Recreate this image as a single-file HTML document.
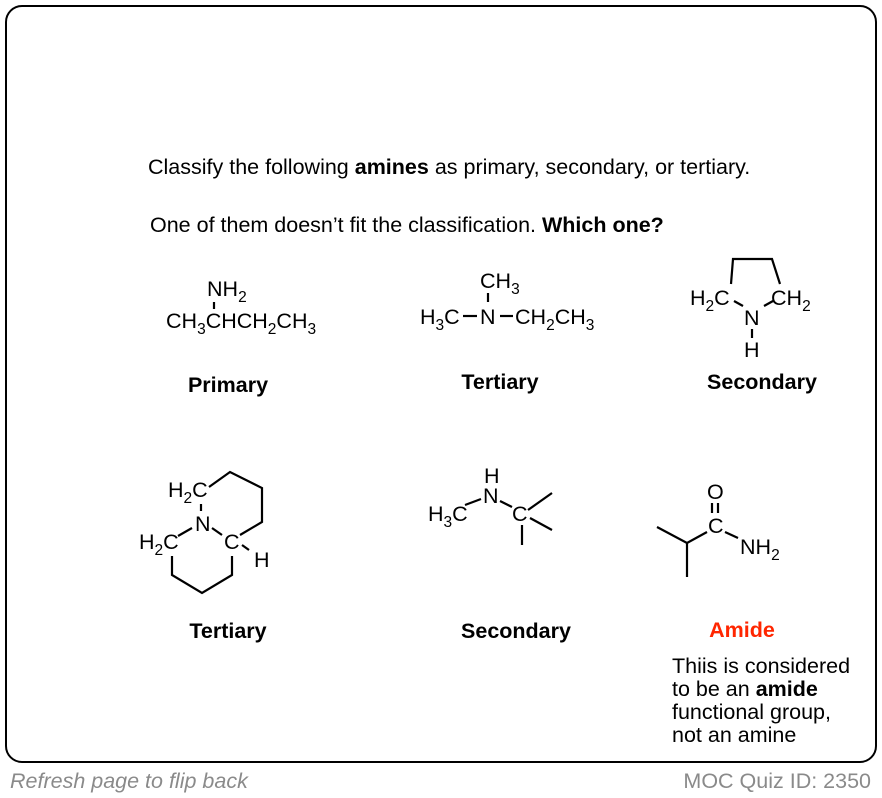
<!DOCTYPE html>
<html><head><meta charset="utf-8"><style>
html,body{margin:0;padding:0;background:#fff;}
svg{display:block;font-family:"Liberation Sans",Arial,sans-serif;}
text{fill:#000;}
.t{font-size:21.5px;}
.c{font-size:21.5px;}
.s{font-size:15.5px;}
.b{font-weight:bold;}
line,polyline{stroke:#000;stroke-width:2.2;fill:none;}
</style></head><body>
<svg width="882" height="798" viewBox="0 0 882 798">
<rect x="6" y="6" width="870" height="756" rx="16" fill="#fff" stroke="#000" stroke-width="2"/>
<text x="148" y="174" class="t">Classify the following <tspan class="b">amines</tspan> as primary, secondary, or tertiary.</text>
<text x="150" y="232" class="t">One of them doesn’t fit the classification. <tspan class="b">Which one?</tspan></text>

<!-- primary -->
<text x="207" y="296" class="c">NH<tspan class="s" dy="6">2</tspan></text>
<line x1="214" y1="302" x2="214" y2="309"/>
<text x="166" y="328" class="c">CH<tspan class="s" dy="6">3</tspan><tspan dy="-6">CHCH</tspan><tspan class="s" dy="6">2</tspan><tspan dy="-6">CH</tspan><tspan class="s" dy="6">3</tspan></text>
<text x="228" y="392" class="c b" text-anchor="middle">Primary</text>

<!-- tertiary 1 -->
<text x="480" y="288" class="c">CH<tspan class="s" dy="6">3</tspan></text>
<line x1="488" y1="293" x2="488" y2="302"/>
<text x="420" y="324" class="c">H<tspan class="s" dy="6">3</tspan><tspan dy="-6">C</tspan></text>
<line x1="463" y1="316" x2="477" y2="316"/>
<text x="480" y="324" class="c">N</text>
<line x1="500" y1="316" x2="513" y2="316"/>
<text x="515" y="324" class="c">CH<tspan class="s" dy="6">2</tspan><tspan dy="-6">CH</tspan><tspan class="s" dy="6">3</tspan></text>
<text x="500" y="389" class="c b" text-anchor="middle">Tertiary</text>

<!-- pyrrolidine -->
<polyline points="731,284 733,259 772,259 780,284"/>
<text x="690" y="305" class="c">H<tspan class="s" dy="6">2</tspan><tspan dy="-6">C</tspan></text>
<text x="771" y="305" class="c">CH<tspan class="s" dy="6">2</tspan></text>
<line x1="734" y1="301" x2="743" y2="306"/>
<line x1="773" y1="301" x2="764" y2="306"/>
<text x="744" y="325" class="c">N</text>
<line x1="752" y1="329" x2="752" y2="338"/>
<text x="744" y="357" class="c">H</text>
<text x="762" y="389" class="c b" text-anchor="middle">Secondary</text>

<!-- quinolizidine -->
<text x="168" y="497" class="c">H<tspan class="s" dy="6">2</tspan><tspan dy="-6">C</tspan></text>
<polyline points="209,487 230,472 262,488 262,522 240,535"/>
<line x1="201" y1="504" x2="201" y2="511"/>
<text x="195" y="531" class="c">N</text>
<line x1="192" y1="528" x2="178" y2="536"/>
<line x1="212" y1="528" x2="222" y2="535"/>
<text x="139" y="549" class="c">H<tspan class="s" dy="6">2</tspan><tspan dy="-6">C</tspan></text>
<text x="224" y="549" class="c">C</text>
<line x1="242" y1="545" x2="249" y2="550"/>
<text x="254" y="567" class="c">H</text>
<polyline points="172,556 172,575 202,593 232,575 232,556"/>
<text x="228" y="638" class="c b" text-anchor="middle">Tertiary</text>

<!-- secondary 2 -->
<text x="484" y="483" class="c">H</text>
<text x="483" y="503" class="c">N</text>
<text x="428" y="521" class="c">H<tspan class="s" dy="6">3</tspan><tspan dy="-6">C</tspan></text>
<line x1="465" y1="505" x2="481" y2="499"/>
<line x1="500" y1="501" x2="512" y2="507"/>
<text x="512" y="521" class="c">C</text>
<line x1="528" y1="510" x2="552" y2="493"/>
<line x1="530" y1="518" x2="552" y2="530"/>
<line x1="522" y1="525" x2="522" y2="545"/>
<text x="516" y="638" class="c b" text-anchor="middle">Secondary</text>

<!-- amide -->
<text x="707" y="499" class="c">O</text>
<line x1="712" y1="503" x2="712" y2="513"/>
<line x1="718" y1="503" x2="718" y2="513"/>
<text x="708" y="533" class="c">C</text>
<polyline points="657,527 687,543 707,532"/>
<line x1="687" y1="543" x2="687" y2="577"/>
<line x1="725" y1="532" x2="738" y2="538"/>
<text x="740" y="554" class="c">NH<tspan class="s" dy="6">2</tspan></text>
<text x="742" y="637" class="c b" text-anchor="middle" style="fill:#ff2600">Amide</text>
<text x="672" y="673" class="t">Thiis is considered</text>
<text x="672" y="696" class="t">to be an <tspan class="b">amide</tspan></text>
<text x="672" y="719" class="t">functional group,</text>
<text x="672" y="742" class="t">not an amine</text>

<text x="10" y="788" class="t" style="fill:#8a8a8a;font-style:italic">Refresh page to flip back</text>
<text x="871" y="788" class="t" text-anchor="end" style="fill:#8a8a8a">MOC Quiz ID: 2350</text>
</svg>
</body></html>
